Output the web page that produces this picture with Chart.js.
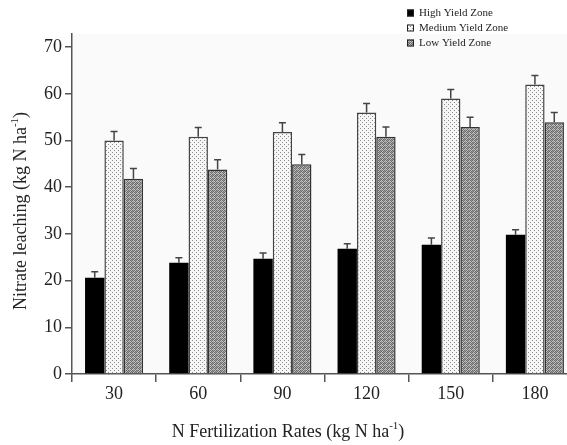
<!DOCTYPE html>
<html>
<head>
<meta charset="utf-8">
<script src="https://cdn.jsdelivr.net/npm/chart.js@4.4.1/dist/chart.umd.min.js"></script>
<style>
  html, body { margin: 0; padding: 0; background: #fff; overflow: hidden; }
  #wrap { width: 567px; height: 445px; overflow: hidden; }
  canvas { display: block; }
</style>
</head>
<body>
<div id="wrap"><canvas id="chart" width="577" height="445"></canvas></div>
<script>
// N fertilization rates (kg N/ha)
const categories = ['30', '60', '90', '120', '150', '180'];

// nitrate leaching (kg N/ha) per yield zone
const highYield = [20.6, 23.8, 24.7, 26.8, 27.7, 29.8];
const mediumYield = [50, 50.8, 51.8, 56, 59, 62];
const lowYield = [41.8, 43.8, 44.9, 50.8, 52.9, 53.9];

// upper error bars
const highErr = [1.3, 1.1, 1.2, 1.1, 1.4, 1.1];
const mediumErr = [1.9, 2.0, 2.0, 1.9, 1.9, 1.9];
const lowErr = [2.2, 2.1, 2.1, 2.1, 2.1, 2.1];

const seriesNames = ['High Yield Zone', 'Medium Yield Zone', 'Low Yield Zone'];
const yTicks = [0, 10, 20, 30, 40, 50, 60, 70];
const yMin = 0;
const yMax = 72.8;

const SERIF = "'Liberation Serif', 'Times New Roman', serif";
const AXIS = '#555';
const TEXT = '#222';

const canvas = document.getElementById('chart');
const ctx = canvas.getContext('2d');

// small repeating stipple tiles for the hatched bars
const makePattern = (rows, colors) => {
  const c = document.createElement('canvas');
  c.width = rows[0].length;
  c.height = rows.length;
  const p = c.getContext('2d');
  rows.forEach((row, y) => {
    [...row].forEach((k, x) => {
      p.fillStyle = colors[k];
      p.fillRect(x, y, 1, 1);
    });
  });
  return ctx.createPattern(c, 'repeat');
};

const mediumFill = makePattern([
  '1000',
  '0000',
  '0010',
  '0000',
], { 0: '#f6f6f6', 1: '#8c8c8c' });
const lowFill = makePattern([
  '1012',
  '0201',
  '1210',
  '2101',
], { 0: '#c4c4c4', 1: '#6a6a6a', 2: '#9a9a9a' });

const fills = ['#000', mediumFill, lowFill];
const borders = ['#000', '#444', '#333'];
const errors = [highErr, mediumErr, lowErr];

// draw text with "-1" superscript parts, centred on (x, y)
const drawRich = (c, parts, x, y, size) => {
  const big = `${size}px ${SERIF}`;
  const small = `${Math.round(size * 0.62)}px ${SERIF}`;
  let total = 0;
  parts.forEach(p => {
    c.font = p.sup ? small : big;
    total += c.measureText(p.t).width;
  });
  let cx = x - total / 2;
  c.textBaseline = 'middle';
  c.textAlign = 'left';
  parts.forEach(p => {
    c.font = p.sup ? small : big;
    c.fillText(p.t, cx, p.sup ? y - size * 0.3 : y);
    cx += c.measureText(p.t).width;
  });
};

const plotBackground = {
  id: 'plotBackground',
  beforeDraw(chart) {
    const { ctx: c, chartArea: a } = chart;
    c.save();
    c.fillStyle = '#fafafa';
    c.fillRect(a.left, a.top, a.right - a.left, a.bottom - a.top);
    c.restore();
  },
};

const errorBars = {
  id: 'errorBars',
  afterDatasetsDraw(chart) {
    const c = chart.ctx;
    const y = chart.scales.y;
    c.save();
    c.strokeStyle = '#444';
    c.lineWidth = 1.5;
    chart.data.datasets.forEach((ds, i) => {
      const meta = chart.getDatasetMeta(i);
      meta.data.forEach((bar, j) => {
        const top = y.getPixelForValue(ds.data[j] + errors[i][j]);
        c.beginPath();
        c.moveTo(bar.x, bar.y);
        c.lineTo(bar.x, top);
        c.moveTo(bar.x - 3.5, top);
        c.lineTo(bar.x + 3.5, top);
        c.stroke();
      });
    });
    c.restore();
  },
};

const titlesAndLegend = {
  id: 'titlesAndLegend',
  afterDraw(chart) {
    const c = chart.ctx;
    const a = chart.chartArea;
    c.save();
    c.fillStyle = TEXT;
    drawRich(c, [
      { t: 'N Fertilization Rates (kg N ha' },
      { t: '-1', sup: true },
      { t: ')' },
    ], a.left + 216, 432, 18);

    c.save();
    c.translate(21, 211);
    c.rotate(-Math.PI / 2);
    drawRich(c, [
      { t: 'Nitrate leaching (kg N ha' },
      { t: '-1', sup: true },
      { t: ')' },
    ], 0, 0, 18);
    c.restore();

    // legend
    seriesNames.forEach((name, i) => {
      const ly = 13 + i * 15;
      c.fillStyle = fills[i];
      c.fillRect(407, ly - 3.5, 7, 7);
      c.strokeStyle = '#222';
      c.lineWidth = 1;
      c.strokeRect(407.5, ly - 3, 6, 6);
      c.fillStyle = TEXT;
      c.font = `11px ${SERIF}`;
      c.textAlign = 'left';
      c.textBaseline = 'middle';
      c.fillText(name, 419, ly + 0.5);
    });
    c.restore();
  },
};

new Chart(ctx, {
  type: 'bar',
  data: {
    labels: categories,
    datasets: [highYield, mediumYield, lowYield].map((data, i) => ({
      label: seriesNames[i],
      data,
      backgroundColor: fills[i],
      borderColor: borders[i],
      borderWidth: i === 0 ? 0 : 1.5,
      borderSkipped: 'bottom',
      barPercentage: 1,
      categoryPercentage: 0.69,
    })),
  },
  options: {
    responsive: false,
    animation: false,
    devicePixelRatio: 1,
    layout: { padding: { top: 34, left: 0, right: 0, bottom: 0 } },
    plugins: {
      legend: { display: false },
      tooltip: { enabled: false },
    },
    scales: {
      x: {
        afterFit: s => { s.height = 71; },
        border: { display: true, color: AXIS, width: 1.5 },
        grid: {
          display: true,
          drawOnChartArea: false,
          drawTicks: true,
          tickLength: 8,
          color: AXIS,
          lineWidth: 1.5,
          offset: true,
        },
        ticks: {
          color: TEXT,
          padding: 1,
          font: { family: SERIF, size: 18 },
        },
      },
      y: {
        min: yMin,
        max: yMax,
        afterFit: s => { s.width = 72; },
        afterBuildTicks: s => {
          s.ticks = yTicks.map(value => ({ value }));
        },
        border: { display: true, color: AXIS, width: 1.5 },
        grid: {
          display: true,
          drawOnChartArea: false,
          drawTicks: true,
          tickLength: 7,
          color: AXIS,
          lineWidth: 1.5,
        },
        ticks: {
          color: TEXT,
          padding: 3,
          font: { family: SERIF, size: 18 },
        },
      },
    },
  },
  plugins: [plotBackground, errorBars, titlesAndLegend],
});
</script>
</body>
</html>
